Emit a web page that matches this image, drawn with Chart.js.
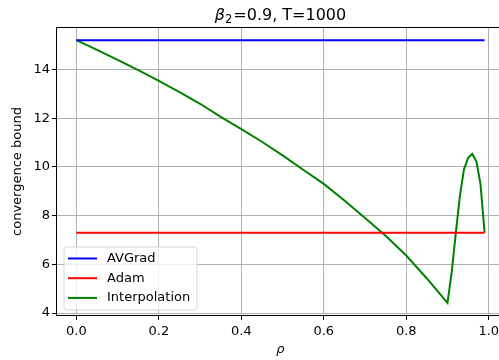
<!DOCTYPE html>
<html>
<head>
<meta charset="utf-8">
<script src="https://cdn.jsdelivr.net/npm/chart.js@4"></script>
<style>
html,body{margin:0;padding:0;background:#fff;overflow:hidden;width:499px;height:360px;}
canvas{display:block;}
</style>
</head>
<body>
<canvas id="c" width="510" height="360"></canvas>
<script>
// ---- data ----
const rho = [0,0.05,0.1,0.15,0.2,0.25,0.3,0.35,0.4,0.45,0.5,0.55,0.6,0.65,0.7,0.75,0.8,0.85,0.9,0.91,0.92,0.93,0.94,0.95,0.96,0.97,0.98,0.99];
const interpolation = [15.20,14.80,14.39,13.97,13.53,13.07,12.59,12.05,11.55,11.03,10.47,9.88,9.30,8.62,7.90,7.17,6.36,5.42,4.42,5.65,7.25,8.80,9.90,10.37,10.53,10.23,9.30,7.30];
const rhoEnds = [0, 0.99];
const avgrad = [15.2, 15.2];
const adam = [7.3, 7.3];
const seriesLabels = ['AVGrad','Adam','Interpolation'];
const xTicks = [0,0.2,0.4,0.6,0.8,1.0];
const xTickLabels = ['0.0','0.2','0.4','0.6','0.8','1.0'];
const yTicks = [4,6,8,10,12,14];
const yTickLabels = ['4','6','8','10','12','14'];
const titleSymbol = 'β';
const titleSub = '2';
const titleRest = '=0.9, T=1000';

const pts = (xs, ys) => xs.map((x,i)=>({x:x, y:ys[i]}));
const FONT = "'DejaVu Sans', sans-serif";

const framePlugin = {
  id:'frame',
  afterDatasetsDraw(chart){
    const {ctx, chartArea:a} = chart;
    ctx.save();
    ctx.strokeStyle = '#000';
    ctx.lineWidth = 1;
    ctx.strokeRect(a.left+0.5, a.top+0.5, a.right-a.left-1, a.bottom-a.top-1);
    ctx.restore();
  }
};

const titlePlugin = {
  id:'mathTitle',
  afterDraw(chart){
    const {ctx, chartArea:a} = chart;
    ctx.save();
    ctx.fillStyle = '#000';
    ctx.textBaseline = 'alphabetic';
    ctx.textAlign = 'left';
    const fBig = '16px ' + FONT, fIt = 'italic 16px ' + FONT, fSub = '11.5px ' + FONT;
    ctx.font = fIt; const w1 = ctx.measureText(titleSymbol).width;
    ctx.font = fSub; const w2 = ctx.measureText(titleSub).width;
    ctx.font = fBig; const w3 = ctx.measureText(titleRest).width;
    const total = w1 + w2 + 1 + w3;
    let x = (a.left + a.right)/2 - total/2;
    const base = 19.5;
    ctx.font = fIt; ctx.fillText(titleSymbol, x, base); x += w1;
    ctx.font = fSub; ctx.fillText(titleSub, x, base + 3); x += w2 + 1;
    ctx.font = fBig; ctx.fillText(titleRest, x, base);
    ctx.restore();
  }
};

const legendPlugin = {
  id:'innerLegend',
  afterDraw(chart){
    const {ctx} = chart;
    const x0 = 64, y0 = 247, w = 133, h = 63;
    ctx.save();
    ctx.beginPath();
    const r = 3;
    ctx.moveTo(x0+r,y0); ctx.lineTo(x0+w-r,y0); ctx.quadraticCurveTo(x0+w,y0,x0+w,y0+r);
    ctx.lineTo(x0+w,y0+h-r); ctx.quadraticCurveTo(x0+w,y0+h,x0+w-r,y0+h);
    ctx.lineTo(x0+r,y0+h); ctx.quadraticCurveTo(x0,y0+h,x0,y0+h-r);
    ctx.lineTo(x0,y0+r); ctx.quadraticCurveTo(x0,y0,x0+r,y0);
    ctx.closePath();
    ctx.fillStyle = 'rgba(255,255,255,0.8)';
    ctx.fill();
    ctx.strokeStyle = 'rgba(204,204,204,0.8)';
    ctx.lineWidth = 1;
    ctx.stroke();
    ctx.font = '13px ' + FONT;
    ctx.textBaseline = 'middle';
    ctx.textAlign = 'left';
    chart.data.datasets.forEach((ds,i)=>{
      const y = 258.5 + i*19.7;
      ctx.strokeStyle = ds.borderColor;
      ctx.lineWidth = 2;
      ctx.beginPath(); ctx.moveTo(68, y); ctx.lineTo(97, y); ctx.stroke();
      ctx.fillStyle = '#000';
      ctx.fillText(ds.label, 107, y);
    });
    ctx.restore();
  }
};

new Chart(document.getElementById('c'), {
  type:'line',
  data:{
    datasets:[
      {label:seriesLabels[0], data:pts(rhoEnds, avgrad), borderColor:'#0000ff', borderWidth:2, pointRadius:0, tension:0},
      {label:seriesLabels[1], data:pts(rhoEnds, adam), borderColor:'#ff0000', borderWidth:2, pointRadius:0, tension:0},
      {label:seriesLabels[2], data:pts(rho, interpolation), borderColor:'#008000', borderWidth:2, pointRadius:0, tension:0}
    ]
  },
  options:{
    responsive:false,
    animation:false,
    devicePixelRatio:1,
    layout:{padding:{left:0,right:5,top:27,bottom:0}},
    plugins:{
      legend:{display:false},
      tooltip:{enabled:false},
      title:{display:false}
    },
    scales:{
      x:{
        type:'linear', min:-0.0495, max:1.0395,
        afterBuildTicks(s){ s.ticks = xTicks.map(v=>({value:v})); },
        afterFit(s){ s.height = 44; },
        ticks:{color:'#000', font:{family:FONT,size:13}, padding:4, maxRotation:0, autoSkip:false,
          callback:(v,i)=>xTickLabels[i]},
        grid:{color:'#b0b0b0', lineWidth:1, tickLength:4, tickColor:'#000', drawTicks:true},
        border:{display:false},
        title:{display:true, text:'ρ', color:'#000', font:{family:FONT,size:13, style:'italic'}, padding:{top:0,bottom:3}}
      },
      y:{
        type:'linear', min:3.88, max:15.74,
        afterBuildTicks(s){ s.ticks = yTicks.map(v=>({value:v})); },
        afterFit(s){ s.width = 56; },
        ticks:{color:'#000', font:{family:FONT,size:13}, padding:2, autoSkip:false,
          callback:(v,i)=>yTickLabels[i]},
        grid:{color:'#b0b0b0', lineWidth:1, tickLength:4, tickColor:'#000', drawTicks:true},
        border:{display:false},
        title:{display:true, text:'convergence bound', color:'#000', font:{family:FONT,size:13}, padding:{top:10,bottom:0}}
      }
    }
  },
  plugins:[framePlugin, titlePlugin, legendPlugin]
});
</script>
</body>
</html>
